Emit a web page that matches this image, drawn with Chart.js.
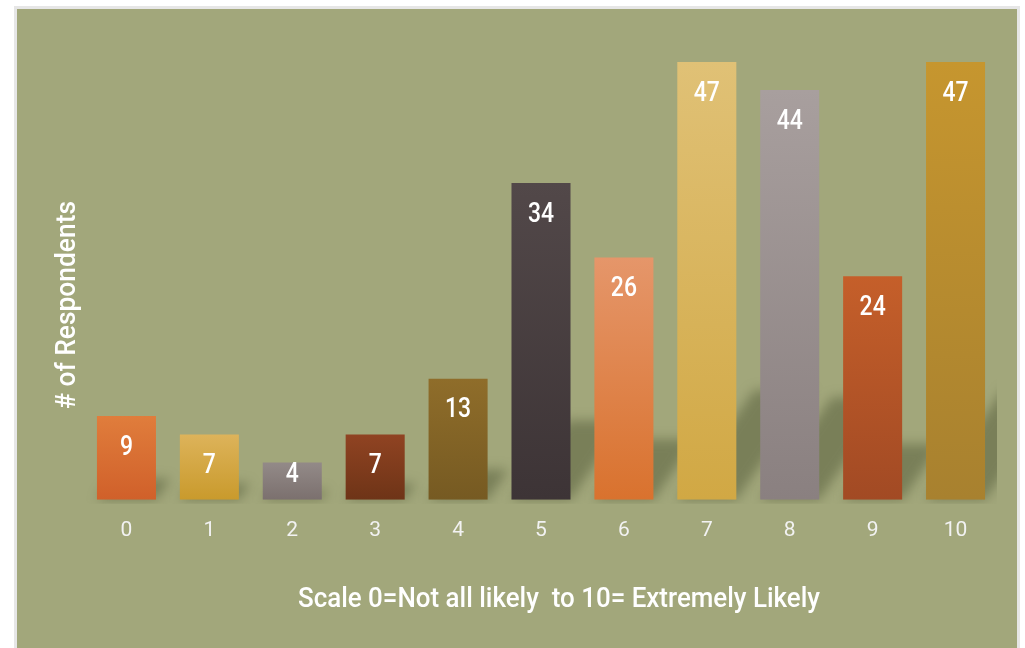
<!DOCTYPE html>
<html>
<head>
<meta charset="utf-8">
<script src="https://cdn.jsdelivr.net/npm/chart.js@4.4.1/dist/chart.umd.min.js"></script>
<style>
  html, body { margin: 0; padding: 0; background: #fff; }
  #wrap { position: relative; width: 1025px; height: 648px; overflow: hidden; }
  #panel { position: absolute; left: 14px; top: 6px; width: 1006px; height: 650px;
           background: #A2A77B; border: 3px solid #E6E6E6; box-sizing: border-box; }
  #chart { position: absolute; left: 0; top: 0; }
</style>
</head>
<body>
<div id="wrap">
  <div id="panel"></div>
  <canvas id="chart" width="1025" height="648"></canvas>
</div>
<script>
// survey data
const scaleLabels = ['0','1','2','3','4','5','6','7','8','9','10'];
const respondents = [9, 7, 4, 7, 13, 34, 26, 47, 44, 24, 47];
const topColors    = ['#E07D3C','#DDB35A','#938A88','#904322','#8F6D2A','#524849','#E5966A','#E0C176','#A89F9E','#C55F2A','#C6962F'];
const bottomColors = ['#D0602A','#C99A2C','#7B706E','#6E3417','#765A22','#3D3436','#D9722E','#D1A844','#8A8080','#A24A24','#A8812F'];
const xTitle = 'Scale 0=Not all likely  to 10= Extremely Likely';
const yTitle = '# of Respondents';

const FONT = 'Roboto, "Noto Sans", sans-serif';

// soft skewed shadow behind each bar
const barShadows = {
  id: 'barShadows',
  beforeDatasetsDraw(chart) {
    const ctx = chart.ctx, area = chart.chartArea;
    const bars = chart.getDatasetMeta(0).data;
    ctx.save();
    ctx.beginPath();
    ctx.rect(area.left, area.top, area.right - area.left, area.bottom - area.top + 4);
    ctx.clip();
    ctx.filter = 'blur(6px)';
    ctx.fillStyle = 'rgba(88,94,60,0.55)';
    bars.forEach(b => {
      const h = b.base - b.y;
      const sh = h * 0.25, dx = sh * 0.7;
      const x0 = b.x - b.width / 2, x1 = b.x + b.width / 2;
      ctx.beginPath();
      ctx.moveTo(x0, b.base);
      ctx.lineTo(x1, b.base);
      ctx.lineTo(x1 + dx, b.base - sh);
      ctx.lineTo(x0 + dx, b.base - sh);
      ctx.closePath();
      ctx.fill();
    });
    ctx.restore();
  }
};

// narrow text: squeeze horizontally around (x, y)
function narrowText(ctx, text, x, y, sx) {
  ctx.save();
  ctx.translate(x, y);
  ctx.scale(sx, 1);
  ctx.fillText(text, 0, 0);
  ctx.restore();
}

// value labels inside the bars plus the two axis titles
const labelsAndTitles = {
  id: 'labelsAndTitles',
  afterDatasetsDraw(chart) {
    const ctx = chart.ctx;
    const bars = chart.getDatasetMeta(0).data;
    ctx.save();
    ctx.fillStyle = '#FFFFFF';
    ctx.textAlign = 'center';
    ctx.textBaseline = 'middle';
    ctx.font = '500 27px ' + FONT;
    bars.forEach((b, i) => {
      const h = b.base - b.y;
      const off = Math.min(29, Math.max(h - 28, 0)) + 3;
      narrowText(ctx, String(respondents[i]), b.x, b.y + off, 0.85);
    });

    ctx.font = '500 28px ' + FONT;
    const w = ctx.measureText(xTitle).width;
    narrowText(ctx, xTitle, 559, 600, 522 / w);

    ctx.translate(68, 305);
    ctx.rotate(-Math.PI / 2);
    ctx.font = '500 28px ' + FONT;
    const wy = ctx.measureText(yTitle).width;
    narrowText(ctx, yTitle, 0, 0, 208 / wy);
    ctx.restore();
  }
};

function barGradient(context) {
  const chart = context.chart;
  const i = context.dataIndex;
  if (!chart.chartArea) return topColors[i];
  const yScale = chart.scales.y;
  const top = yScale.getPixelForValue(respondents[i]);
  const base = yScale.getPixelForValue(0);
  const g = chart.ctx.createLinearGradient(0, top, 0, base);
  g.addColorStop(0, topColors[i]);
  g.addColorStop(1, bottomColors[i]);
  return g;
}

new Chart(document.getElementById('chart'), {
  type: 'bar',
  data: {
    labels: scaleLabels,
    datasets: [{
      data: respondents,
      backgroundColor: barGradient,
      borderWidth: 0,
      barPercentage: 0.712,
      categoryPercentage: 1.0
    }]
  },
  options: {
    responsive: false,
    animation: false,
    layout: { padding: { left: 85, right: 28, top: 34, bottom: 95 } },
    plugins: {
      legend: { display: false },
      tooltip: { enabled: false }
    },
    scales: {
      x: {
        grid: { display: false },
        border: { display: false },
        ticks: { color: '#F2F2F2', font: { family: FONT, size: 21 }, padding: 10 }
      },
      y: {
        display: false,
        min: 0,
        max: 50
      }
    }
  },
  plugins: [barShadows, labelsAndTitles]
});
</script>
</body>
</html>
